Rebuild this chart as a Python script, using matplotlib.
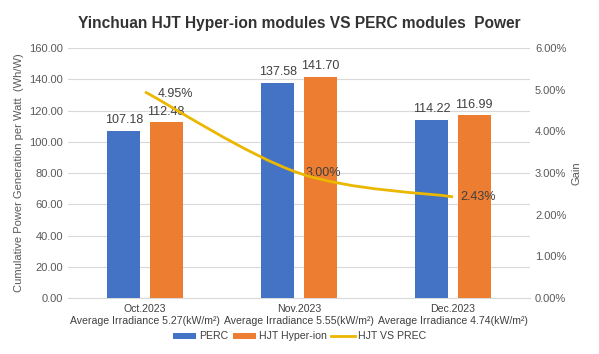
import numpy as np
import matplotlib.pyplot as plt
from matplotlib.path import Path
from matplotlib.patches import PathPatch

plt.rcParams['font.family'] = ['Liberation Sans', 'DejaVu Sans']

months = ['Oct.2023', 'Nov.2023', 'Dec.2023']
irradiance = ['5.27', '5.55', '4.74']
perc = [107.18, 137.58, 114.22]
hjt = [112.48, 141.70, 116.99]
gain = [4.95, 3.00, 2.43]

c_perc = '#4472C4'
c_hjt = '#ED7D31'
c_gain = '#EBB700'
txt = '#595959'

fig = plt.figure(figsize=(5.99, 3.54), dpi=100)
ax = fig.add_axes([0.1135, 0.158, 0.7715, 0.706])
ax2 = ax.twinx()

x = np.arange(len(months))
w = 0.215
ax.bar(x - w / 2 - 0.03, perc, w, color=c_perc, label='PERC', zorder=3)
ax.bar(x + w / 2 + 0.03, hjt, w, color=c_hjt, label='HJT Hyper-ion', zorder=3)
for i in range(len(x)):
    ax.text(x[i] - w / 2 - 0.03, perc[i] + 3, '%.2f' % perc[i], ha='center', va='bottom',
            fontsize=9, color='#404040')
    ax.text(x[i] + w / 2 + 0.03, hjt[i] + 3, '%.2f' % hjt[i], ha='center', va='bottom',
            fontsize=9, color='#404040')

ax.set_xlim(-0.5, 2.5)
ax.set_ylim(0, 160)
ax.set_yticks(np.arange(0, 161, 20))
ax.set_yticklabels(['%.2f' % v for v in np.arange(0, 161, 20)])
ax.grid(axis='y', color='#D9D9D9', lw=0.8, zorder=0)
ax.set_xticks(x)
ax.set_xticklabels(['%s\nAverage Irradiance %s(kW/m\u00b2)' % (m, r) for m, r in zip(months, irradiance)],
                   fontsize=7.6, color='#404040', linespacing=1.35)
ax.set_ylabel('Cumulative Power Generation per Watt  (Wh/W)', fontsize=8, color=txt)

# smoothed line (Catmull-Rom bezier through the data points)
pts = np.column_stack([x, gain]).astype(float)
verts = [pts[0]]
codes = [Path.MOVETO]
for i in range(len(pts) - 1):
    p0 = pts[max(i - 1, 0)]
    p1 = pts[i]
    p2 = pts[i + 1]
    p3 = pts[min(i + 2, len(pts) - 1)]
    verts += [p1 + (p2 - p0) / 6, p2 - (p3 - p1) / 6, p2]
    codes += [Path.CURVE4] * 3
ax2.add_patch(PathPatch(Path(verts, codes), fill=False, edgecolor=c_gain, lw=2, zorder=4))
ax2.plot([], [], color=c_gain, lw=2, label='HJT VS PREC')

ax2.text(x[0] + 0.08, gain[0] - 0.05, '%.2f%%' % gain[0], ha='left', va='center', fontsize=9, color='#404040')
ax2.text(x[1] + 0.04, gain[1], '%.2f%%' % gain[1], ha='left', va='center', fontsize=9, color='#404040')
ax2.text(x[2] + 0.05, gain[2], '%.2f%%' % gain[2], ha='left', va='center', fontsize=9, color='#404040')

ax2.set_ylim(0, 6)
ax2.set_yticks(np.arange(0, 7, 1))
ax2.set_yticklabels(['%.2f%%' % v for v in np.arange(0, 7, 1)])
ax2.set_ylabel('Gain', fontsize=8, color=txt)

for a in (ax, ax2):
    for s in a.spines.values():
        s.set_visible(False)
    a.tick_params(length=0, labelsize=8, labelcolor=txt)
ax.spines['bottom'].set_visible(True)
ax.spines['bottom'].set_color('#D9D9D9')
ax.tick_params(axis='x', labelcolor='#404040', labelsize=7.6, pad=4)

h1, l1 = ax.get_legend_handles_labels()
h2, l2 = ax2.get_legend_handles_labels()
fig.legend(h1 + h2, l1 + l2, loc='center', bbox_to_anchor=(0.5, 0.05), ncol=3, frameon=False,
           fontsize=7.6, labelcolor='#404040', handlelength=2.2, handleheight=0.5, columnspacing=0.4,
           handletextpad=0.3)

fig.suptitle('Yinchuan HJT Hyper-ion modules VS PERC modules  Power', y=0.955, fontsize=11.2,
             fontweight='bold', color='#333333')

fig.savefig('out.png', dpi=100)
